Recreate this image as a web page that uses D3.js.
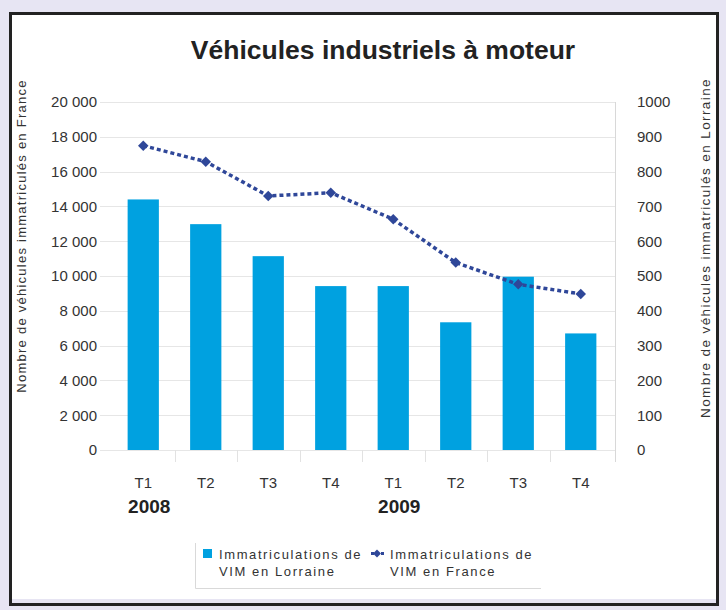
<!DOCTYPE html>
<meta charset="utf-8">
<style>
    body { margin: 0; background: #e7e5f3; }
    svg { display: block; font-family: "Liberation Sans", Arial, sans-serif; }
    .axis text { fill: #333; font-size: 15px; }
    .axis .domain { display: none; }
</style>
<svg width="726" height="610"></svg>
<script src="https://d3js.org/d3.v7.min.js"></script>
<script>

    var quarters = ["T1", "T2", "T3", "T4", "T1", "T2", "T3", "T4"];
    var years = ["2008", "2009"];
    var lorraine = [720, 649, 557, 471, 471, 367, 498, 335];
    var france = [17490, 16570, 14600, 14790, 13260, 10770, 9520, 8970];
    var leftTicks = [0, 2000, 4000, 6000, 8000, 10000, 12000, 14000, 16000, 18000, 20000];
    var rightTicks = [0, 100, 200, 300, 400, 500, 600, 700, 800, 900, 1000];

    var svg = d3.select("svg");

    // frame
    svg.append("rect").attr("x", 10.5).attr("y", 13.5).attr("width", 707).attr("height", 591)
        .attr("fill", "#fff").attr("stroke", "#222").attr("stroke-width", 3);
    svg.append("rect").attr("x", 12).attr("y", 599).attr("width", 704).attr("height", 4)
        .attr("fill", "#e7e5f3");

    svg.append("text")
        .attr("x", 383).attr("y", 59)
        .attr("text-anchor", "middle")
        .attr("font-size", 26.5).attr("font-weight", "bold").attr("fill", "#222")
        .text("Véhicules industriels à moteur");

    var x = d3.scaleBand().domain(d3.range(quarters.length)).range([112, 612])
            .paddingInner(0.5).paddingOuter(0.25),
        yL = d3.scaleLinear().domain([0, 20000]).range([450, 102]),
        yR = d3.scaleLinear().domain([0, 1000]).range([450, 102]);

    var fmt = function(d) { return d3.format(",")(d).replace(/,/g, " "); };

    // gridlines
    svg.append("g").selectAll("line")
        .data(leftTicks)
        .join("line")
        .attr("x1", 100).attr("x2", 615)
        .attr("y1", function(d) { return Math.round(yL(d)) + 0.5; })
        .attr("y2", function(d) { return Math.round(yL(d)) + 0.5; })
        .attr("stroke", "#e6e6e6").attr("stroke-width", 1);

    // category separators below the axis
    svg.append("g").selectAll("line")
        .data(d3.range(1, quarters.length))
        .join("line")
        .attr("x1", function(i) { return Math.round(x(i) - x.step() * 0.25) + 0.5; })
        .attr("x2", function(i) { return Math.round(x(i) - x.step() * 0.25) + 0.5; })
        .attr("y1", 450).attr("y2", 462)
        .attr("stroke", "#e2e2e2");

    svg.append("line").attr("x1", 615.5).attr("x2", 615.5).attr("y1", 102).attr("y2", 462)
        .attr("stroke", "#d8d8d8");

    svg.append("g").attr("class", "axis")
        .attr("transform", "translate(97,0)")
        .call(d3.axisLeft(yL).tickValues(leftTicks).tickSize(0).tickPadding(0).tickFormat(fmt));

    svg.append("g").attr("class", "axis")
        .attr("transform", "translate(637,0)")
        .call(d3.axisRight(yR).tickValues(rightTicks).tickSize(0).tickPadding(0).tickFormat(d3.format("d")));

    svg.append("text")
        .attr("transform", "translate(26,236) rotate(-90)")
        .attr("text-anchor", "middle").attr("font-size", 13).attr("letter-spacing", 1.25)
        .attr("fill", "#333")
        .text("Nombre de véhicules immatriculés en France");

    svg.append("text")
        .attr("transform", "translate(710,248) rotate(-90)")
        .attr("text-anchor", "middle").attr("font-size", 13.5).attr("letter-spacing", 1.4)
        .attr("fill", "#333")
        .text("Nombre de véhicules immatriculés en Lorraine");

    // bars
    svg.append("g").selectAll("rect")
        .data(lorraine)
        .join("rect")
        .attr("x", function(d, i) { return x(i); })
        .attr("y", function(d) { return yR(d); })
        .attr("width", x.bandwidth())
        .attr("height", function(d) { return yR(0) - yR(d); })
        .attr("fill", "#00a1e0");

    // line
    var line = d3.line()
        .x(function(d, i) { return x(i) + x.bandwidth() / 2; })
        .y(function(d) { return yL(d); });

    svg.append("path")
        .datum(france)
        .attr("d", line)
        .attr("fill", "none")
        .attr("stroke", "#2f4799")
        .attr("stroke-width", 3.5)
        .attr("stroke-dasharray", "4,3");

    svg.append("g").selectAll("path")
        .data(france)
        .join("path")
        .attr("transform", function(d, i) {
            return "translate(" + (x(i) + x.bandwidth() / 2) + "," + yL(d) + ")";
        })
        .attr("d", d3.symbol(d3.symbolDiamond2, 70))
        .attr("fill", "#2f4799");

    // category labels
    svg.append("g").selectAll("text")
        .data(quarters)
        .join("text")
        .attr("x", function(d, i) { return x(i) + x.bandwidth() / 2; })
        .attr("y", 488)
        .attr("text-anchor", "middle").attr("font-size", 15).attr("fill", "#333")
        .text(function(d) { return d; });

    svg.append("g").selectAll("text")
        .data(years)
        .join("text")
        .attr("x", function(d, i) { return x(i * 4) + x.bandwidth() / 2 + 6; })
        .attr("y", 513)
        .attr("text-anchor", "middle").attr("font-size", 19).attr("font-weight", "bold").attr("fill", "#222")
        .text(function(d) { return d; });

    // legend
    var legend = svg.append("g").attr("transform", "translate(195,543)");
    legend.append("path").attr("d", "M0.5,0V45.5H346").attr("fill", "none").attr("stroke", "#d9d9d9");
    legend.append("rect").attr("x", 8).attr("y", 6).attr("width", 9).attr("height", 9).attr("fill", "#00a1e0");
    legend.append("line").attr("x1", 176).attr("x2", 189).attr("y1", 10.5).attr("y2", 10.5)
        .attr("stroke", "#2f4799").attr("stroke-width", 3).attr("stroke-dasharray", "3,2");
    legend.append("path").attr("transform", "translate(182,10.5)")
        .attr("d", d3.symbol(d3.symbolDiamond2, 40)).attr("fill", "#2f4799");

    var legendText = [["Immatriculations de", "VIM en Lorraine"], ["Immatriculations de", "VIM en France"]];
    legend.selectAll("text.item")
        .data(legendText)
        .join("text")
        .attr("class", "item")
        .attr("x", function(d, i) { return i === 0 ? 24 : 195; })
        .attr("y", 16)
        .attr("font-size", 13).attr("letter-spacing", 1.6).attr("fill", "#333")
        .each(function(d) {
            var t = d3.select(this);
            t.append("tspan").attr("x", t.attr("x")).attr("dy", 0).text(d[0]);
            t.append("tspan").attr("x", t.attr("x")).attr("dy", 17).text(d[1]);
        });

</script>
